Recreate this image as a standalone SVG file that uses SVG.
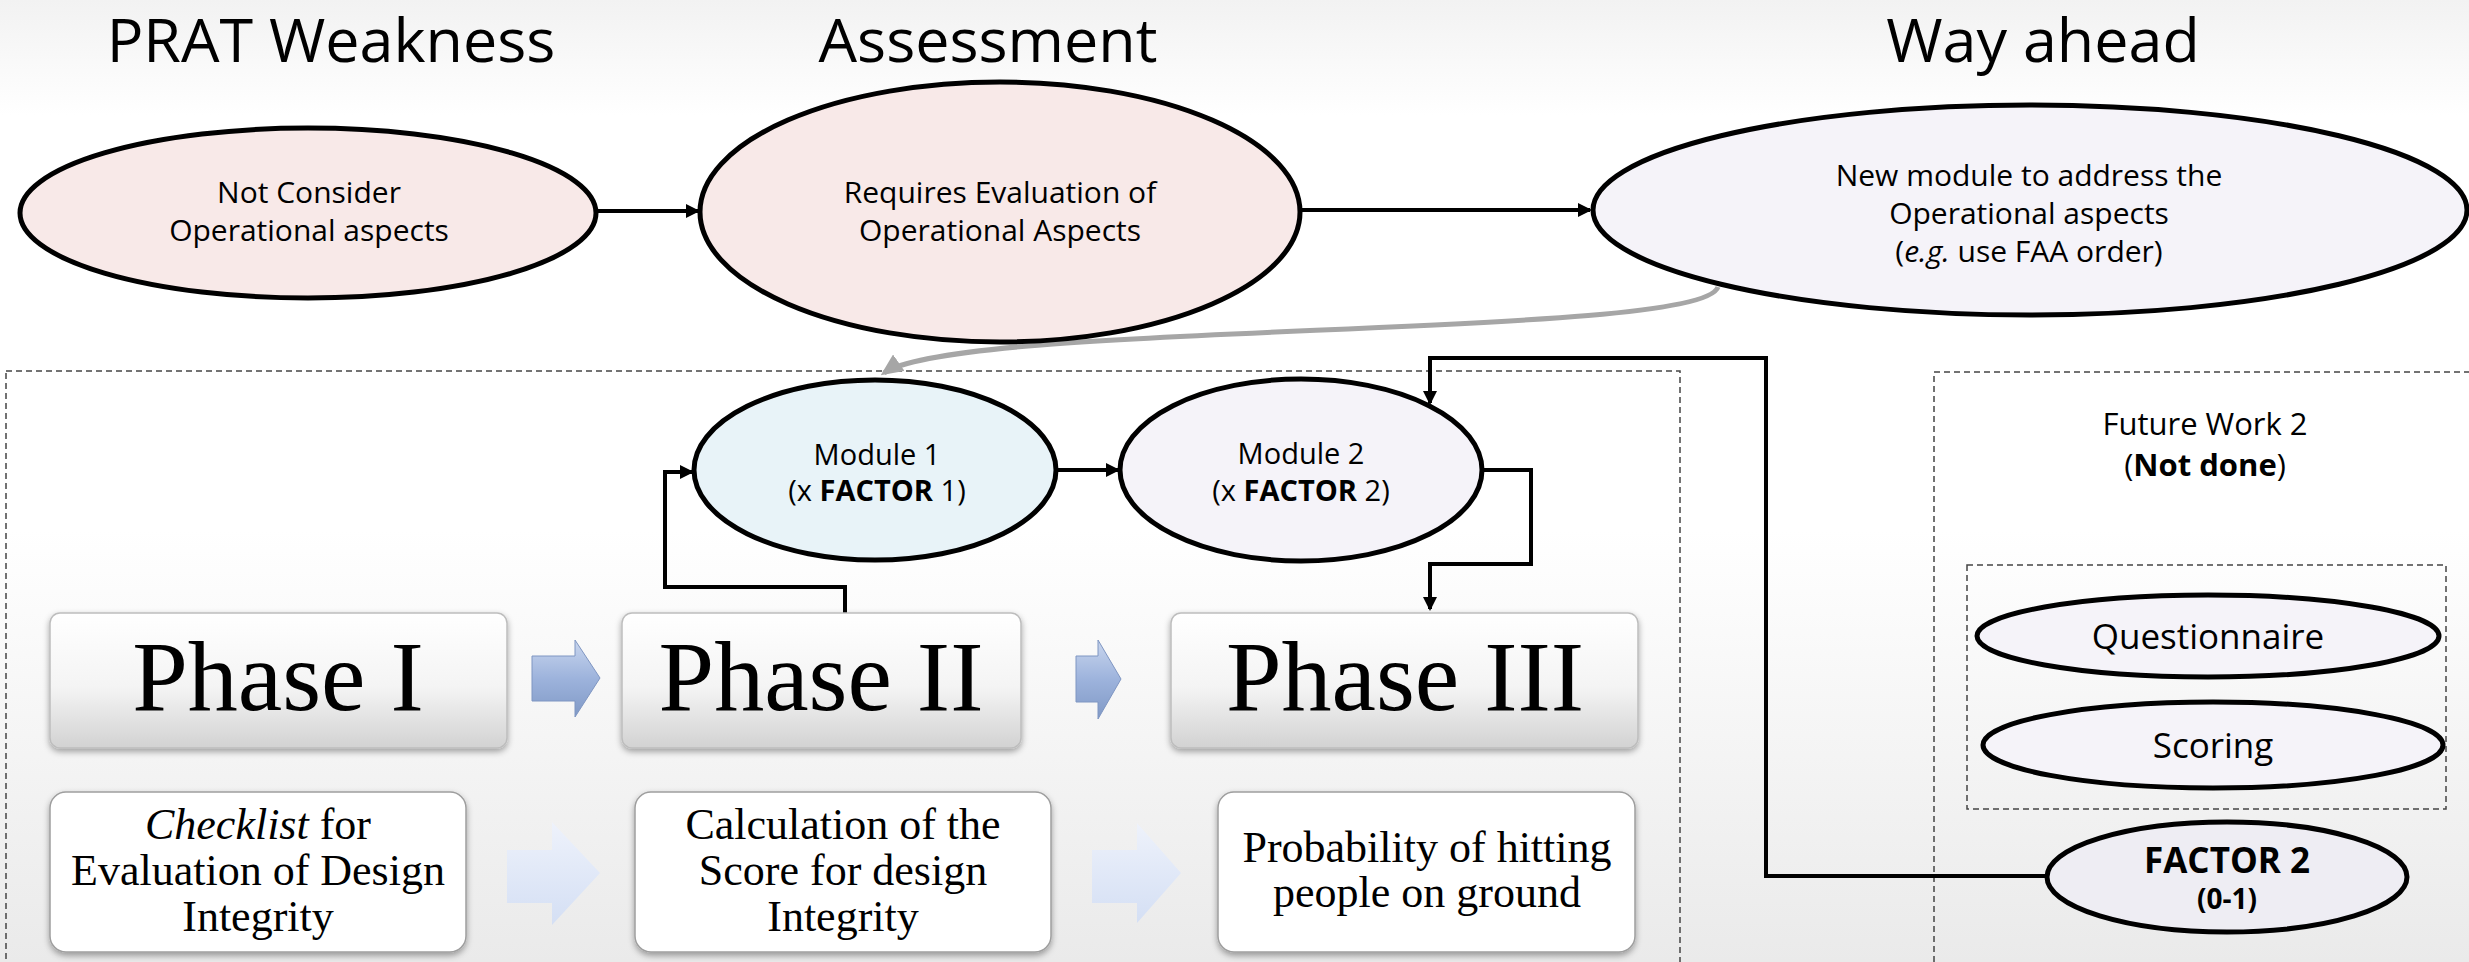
<svg xmlns="http://www.w3.org/2000/svg" width="2469" height="962" viewBox="0 0 2469 962">
<style>
.title{font-family:"Open Sans","Noto Sans",sans-serif;font-size:61px;fill:#000;text-anchor:middle}
.sans{font-family:"Open Sans","Noto Sans",sans-serif;fill:#000;text-anchor:middle}
.serif{font-family:"Liberation Serif","Times New Roman",serif;fill:#000;text-anchor:middle}
.ell{stroke:#000;stroke-width:5}
.conn{fill:none;stroke:#000;stroke-width:4}
.dash{fill:none;stroke:#444;stroke-width:1.5;stroke-dasharray:6 4}
.phase{fill:url(#phaseGrad);stroke:#BDBDBD;stroke-width:1.5;filter:url(#shadow)}
.desc{fill:#fff;stroke:#9E9E9E;stroke-width:1.5;filter:url(#shadow)}
</style>
<defs>
<linearGradient id="bg" x1="0" y1="0" x2="0" y2="1">
<stop offset="0" stop-color="#F2F2F2"/>
<stop offset="0.12" stop-color="#FFFFFF"/>
<stop offset="0.55" stop-color="#FFFFFF"/>
<stop offset="1" stop-color="#EAEAEA"/>
</linearGradient>
<linearGradient id="phaseGrad" x1="0" y1="0" x2="0" y2="1">
<stop offset="0" stop-color="#FFFFFF"/>
<stop offset="0.55" stop-color="#F4F4F4"/>
<stop offset="1" stop-color="#D2D2D2"/>
</linearGradient>
<linearGradient id="blueArrow" x1="0" y1="0" x2="0" y2="1">
<stop offset="0" stop-color="#C9D6EE"/>
<stop offset="0.5" stop-color="#9DB3DC"/>
<stop offset="1" stop-color="#8099C6"/>
</linearGradient>
<linearGradient id="paleArrow" x1="0" y1="0" x2="0" y2="1">
<stop offset="0" stop-color="#EEF2FB"/>
<stop offset="1" stop-color="#D4DFF4"/>
</linearGradient>
<filter id="shadow" x="-10%" y="-10%" width="120%" height="130%">
<feDropShadow dx="0" dy="3" stdDeviation="3" flood-color="#000" flood-opacity="0.35"/>
</filter>
<marker id="ah" markerWidth="14" markerHeight="14" refX="12" refY="7" orient="auto" markerUnits="userSpaceOnUse">
<path d="M0,0 L14,7 L0,14 z" fill="#000"/>
</marker>
<marker id="ahGray" markerWidth="22" markerHeight="20" refX="18" refY="10" orient="auto" markerUnits="userSpaceOnUse">
<path d="M0,0 L22,10 L0,20 z" fill="#A6A6A6"/>
</marker>
</defs>

<rect x="0" y="0" width="2469" height="962" fill="url(#bg)"/>

<g id="titles">
<text class="title" x="331" y="62">PRAT Weakness</text>
<text class="title" x="988" y="62">Assessment</text>
<text class="title" x="2043" y="62">Way ahead</text>
</g>

<g id="containers">
<rect class="dash" x="6" y="371" width="1674" height="620"/>
<rect class="dash" x="1934" y="372" width="560" height="620"/>
<rect class="dash" x="1967" y="565" width="479" height="244"/>
</g>

<g id="connectors">
<path class="conn" d="M596,211 L698,211" marker-end="url(#ah)"/>
<path class="conn" d="M1300,210 L1590,210" marker-end="url(#ah)"/>
<path d="M1718,287 C1700,340 960,320 884,373" fill="none" stroke="#A6A6A6" stroke-width="5" marker-end="url(#ahGray)"/>
<path class="conn" d="M845,613 L845,587 L665,587 L665,472 L692,472" marker-end="url(#ah)"/>
<path class="conn" d="M1056,470 L1118,470" marker-end="url(#ah)"/>
<path class="conn" d="M1482,470 L1531,470 L1531,564 L1430,564 L1430,609" marker-end="url(#ah)"/>
<path class="conn" d="M2047,876 L1766,876 L1766,358 L1430,358 L1430,403" marker-end="url(#ah)"/>
</g>

<g id="node-not-consider">
<ellipse class="ell" cx="308" cy="213" rx="288" ry="85" fill="#F8E9E8"/>
<text class="sans" font-size="30" x="309" y="203">Not Consider</text>
<text class="sans" font-size="30" x="309" y="241">Operational aspects</text>
</g>

<g id="node-requires">
<ellipse class="ell" cx="1000" cy="212" rx="300" ry="130" fill="#F8E9E8"/>
<text class="sans" font-size="30" x="1000" y="203">Requires Evaluation of</text>
<text class="sans" font-size="30" x="1000" y="241">Operational Aspects</text>
</g>

<g id="node-new-module">
<ellipse class="ell" cx="2030" cy="210" rx="437" ry="105" fill="#F5F3F9"/>
<text class="sans" font-size="30" x="2029" y="186">New module to address the</text>
<text class="sans" font-size="30" x="2029" y="224">Operational aspects</text>
<text class="sans" font-size="30" x="2029" y="262">(<tspan font-style="italic">e.g.</tspan> use FAA order)</text>
</g>

<g id="node-module1">
<ellipse class="ell" cx="875" cy="470" rx="181" ry="90" fill="#E8F3F8"/>
<text class="sans" font-size="29" x="877" y="465">Module 1</text>
<text class="sans" font-size="29" x="877" y="501">(x <tspan font-weight="bold">FACTOR</tspan> 1)</text>
</g>

<g id="node-module2">
<ellipse class="ell" cx="1301" cy="470" rx="181" ry="91" fill="#F5F3F9"/>
<text class="sans" font-size="29" x="1301" y="464">Module 2</text>
<text class="sans" font-size="29" x="1301" y="501">(x <tspan font-weight="bold">FACTOR</tspan> 2)</text>
</g>

<g id="node-phase1">
<rect class="phase" x="50" y="613" width="457" height="135" rx="10"/>
<text class="serif" font-size="100" x="278" y="710">Phase I</text>
</g>
<g id="node-phase2">
<rect class="phase" x="622" y="613" width="399" height="135" rx="10"/>
<text class="serif" font-size="100" x="821" y="710">Phase II</text>
</g>
<g id="node-phase3">
<rect class="phase" x="1171" y="613" width="467" height="135" rx="10"/>
<text class="serif" font-size="100" x="1405" y="710">Phase III</text>
</g>

<g id="phase-arrows">
<path d="M532,656 L575,656 L575,640 L600,678 L575,717 L575,701 L532,701 z" fill="url(#blueArrow)" stroke="#7F96C2" stroke-width="1"/>
<path d="M1076,656 L1098,656 L1098,640 L1121,679 L1098,719 L1098,702 L1076,702 z" fill="url(#blueArrow)" stroke="#7F96C2" stroke-width="1"/>
<path d="M507,850 L552,850 L552,822 L600,873 L552,925 L552,903 L507,903 z" fill="url(#paleArrow)"/>
<path d="M1092,850 L1137,850 L1137,823 L1181,873 L1137,923 L1137,903 L1092,903 z" fill="url(#paleArrow)"/>
</g>

<g id="node-checklist">
<rect class="desc" x="50" y="792" width="416" height="160" rx="16"/>
<text class="serif" font-size="44" x="258" y="839"><tspan font-style="italic">Checklist</tspan> for</text>
<text class="serif" font-size="44" x="258" y="885">Evaluation of Design</text>
<text class="serif" font-size="44" x="258" y="931">Integrity</text>
</g>
<g id="node-calculation">
<rect class="desc" x="635" y="792" width="416" height="160" rx="16"/>
<text class="serif" font-size="44" x="843" y="839">Calculation of the</text>
<text class="serif" font-size="44" x="843" y="885">Score for design</text>
<text class="serif" font-size="44" x="843" y="931">Integrity</text>
</g>
<g id="node-probability">
<rect class="desc" x="1218" y="792" width="417" height="160" rx="16"/>
<text class="serif" font-size="44" x="1427" y="862">Probability of hitting</text>
<text class="serif" font-size="44" x="1427" y="907">people on ground</text>
</g>

<g id="node-future-work">
<text class="sans" font-size="31" x="2205" y="435">Future Work 2</text>
<text class="sans" font-size="31" x="2205" y="476">(<tspan font-weight="bold">Not done</tspan>)</text>
</g>
<g id="node-questionnaire">
<ellipse class="ell" cx="2208" cy="636" rx="231" ry="41" fill="#F5F3F9"/>
<text class="sans" font-size="35" x="2208" y="649">Questionnaire</text>
</g>
<g id="node-scoring">
<ellipse class="ell" cx="2213" cy="745" rx="230" ry="43" fill="#F5F3F9"/>
<text class="sans" font-size="35" x="2213" y="758">Scoring</text>
</g>
<g id="node-factor2">
<ellipse class="ell" cx="2227" cy="877" rx="180" ry="55" fill="#EEEDF3"/>
<text class="sans" font-size="35" font-weight="bold" x="2227" y="873">FACTOR 2</text>
<text class="sans" font-size="28" font-weight="bold" x="2227" y="909">(0-1)</text>
</g>
</svg>
